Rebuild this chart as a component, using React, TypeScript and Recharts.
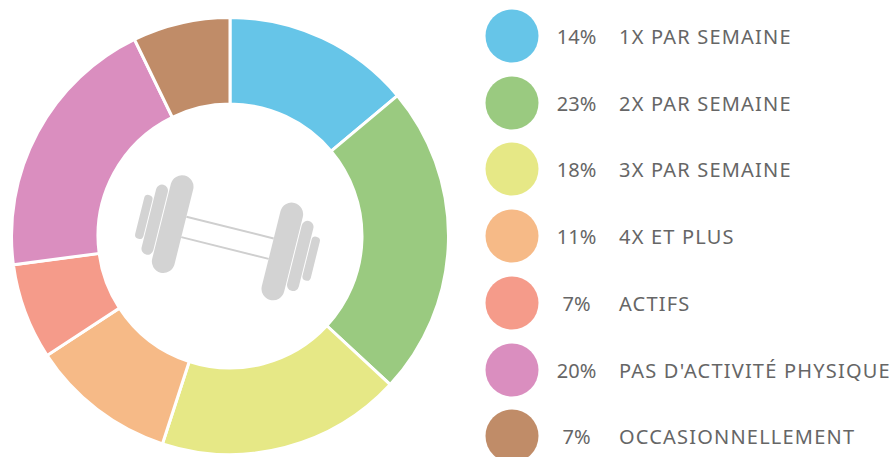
import { Cell, Legend, Pie, PieChart } from 'recharts';

const categories = [
  '1X PAR SEMAINE',
  '2X PAR SEMAINE',
  '3X PAR SEMAINE',
  '4X ET PLUS',
  'ACTIFS',
  "PAS D'ACTIVITÉ PHYSIQUE",
  'OCCASIONNELLEMENT',
];
const percents = [14, 23, 18, 11, 7, 20, 7];
const sliceValues = [13.9, 23, 18.1, 10.8, 7.1, 19.9, 7.2];
const colors = ['#66c5e8', '#9aca80', '#e6e886', '#f6ba87', '#f59b8a', '#da8ebf', '#c08c68'];
const legendRows = [36, 103, 169, 236, 303, 370, 436];

const data = categories.map((name, i) => ({ name, value: sliceValues[i] }));

const textStyle = {
  fontFamily: '"Noto Sans", sans-serif',
  fontSize: 20,
  fill: '#666666',
};

// one row per slice, read back from the legend payload
function SliceLegend({ payload }: any) {
  return (
    <svg width={892} height={457} style={{ display: 'block' }}>
      {(payload || []).map((entry: any, i: number) => (
        <g key={entry.value}>
          <circle cx={512} cy={legendRows[i]} r={26.5} fill={entry.color} />
          <text x={576.5} y={legendRows[i] + 7.5} textAnchor="middle" style={textStyle}>
            {percents[i]}%
          </text>
          <text x={619} y={legendRows[i] + 7.5} letterSpacing={1.2} style={textStyle}>
            {entry.value}
          </text>
        </g>
      ))}
    </svg>
  );
}

function Dumbbell() {
  const fill = '#d3d3d3';
  return (
    <g transform="translate(227.5 237.8) rotate(14)">
      <line x1={-45} x2={45} y1={-10.5} y2={-10.5} stroke="#cfcfcf" strokeWidth={2} />
      <line x1={-45} x2={45} y1={10.5} y2={10.5} stroke="#cfcfcf" strokeWidth={2} />
      <rect x={-68} y={-50} width={23} height={100} rx={11.5} fill={fill} />
      <rect x={45} y={-50} width={23} height={100} rx={11.5} fill={fill} />
      <rect x={-81} y={-36} width={12} height={72} rx={6} fill={fill} />
      <rect x={69} y={-36} width={12} height={72} rx={6} fill={fill} />
      <rect x={-90.5} y={-22.5} width={8.5} height={45} rx={4} fill={fill} />
      <rect x={82} y={-22.5} width={8.5} height={45} rx={4} fill={fill} />
    </g>
  );
}

export default function App() {
  return (
    <div style={{ position: 'fixed', left: 0, top: 0, width: 892, height: 457, overflow: 'hidden', background: '#fff' }}>
      <PieChart width={892} height={457} margin={{ top: 0, right: 0, bottom: 0, left: 0 }}>
        <Pie
          data={data}
          dataKey="value"
          nameKey="name"
          cx={230}
          cy={236}
          innerRadius={132}
          outerRadius={218.5}
          startAngle={90}
          endAngle={-270}
          stroke="#ffffff"
          strokeWidth={3}
          isAnimationActive={false}
        >
          {data.map((entry, i) => (
            <Cell key={entry.name} fill={colors[i]} />
          ))}
        </Pie>
        <Dumbbell />
        <Legend
          content={<SliceLegend />}
          itemSorter={null}
          wrapperStyle={{ position: 'absolute', left: 0, top: 0, width: 892, height: 457, bottom: 'auto' }}
        />
      </PieChart>
    </div>
  );
}
